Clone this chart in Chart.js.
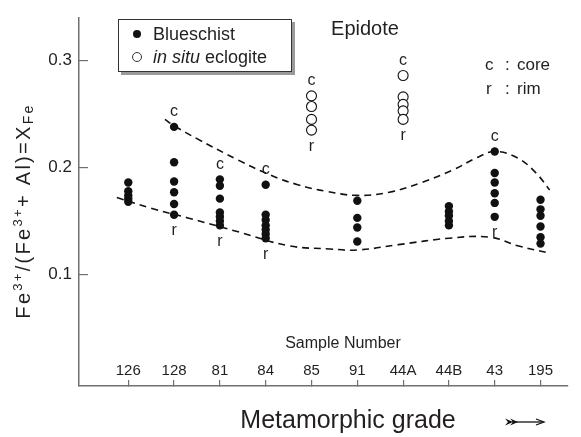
<!DOCTYPE html>
<html>
<head>
<meta charset="utf-8">
<title>Epidote XFe</title>
<style>
  body { margin: 0; background: #fff; }
  #wrap { width: 581px; height: 437px; position: relative; }
</style>
</head>
<body>
<div id="wrap"><canvas id="chart"></canvas></div>
<script src="https://cdn.jsdelivr.net/npm/chart.js"></script>
<script>
// sample numbers along the bottom, in order of metamorphic grade
const samples = ['126', '128', '81', '84', '85', '91', '44A', '44B', '43', '195'];

// Fe3+/(Fe3+ + Al) of epidote, one list per sample
const blueschist = [
  [0.186, 0.178, 0.174, 0.171, 0.168],
  [0.238, 0.205, 0.187, 0.177, 0.166, 0.156],
  [0.189, 0.183, 0.171, 0.158, 0.154, 0.150, 0.146],
  [0.184, 0.156, 0.151, 0.146, 0.142, 0.138, 0.134],
  [],
  [0.169, 0.153, 0.144, 0.131],
  [],
  [0.164, 0.159, 0.155, 0.150, 0.146],
  [0.215, 0.195, 0.186, 0.176, 0.167, 0.154],
  [0.170, 0.161, 0.155, 0.145, 0.135, 0.129]
];
const eclogite = [
  [], [], [], [],
  [0.267, 0.257, 0.245, 0.235],
  [],
  [0.286, 0.266, 0.259, 0.253, 0.245],
  [], [], []
];

// samples marked with c (core) and r (rim)
const coreRim = ['128', '81', '84', '85', '44A', '43'];

// dashed envelope curves, [sample position, XFe]
const upperCurve = [[0.8, 0.245], [1.0, 0.239], [1.5, 0.227], [2.4, 0.207], [3.1, 0.193], [3.7, 0.184],
  [4.3, 0.178], [5.0, 0.174], [5.7, 0.177], [6.4, 0.186], [7.1, 0.198], [7.6, 0.209], [8.0, 0.215],
  [8.5, 0.209], [8.9, 0.195], [9.2, 0.179]];
const lowerCurve = [[-0.25, 0.172], [0.5, 0.162], [1.3, 0.153], [2.4, 0.140], [3.5, 0.127], [4.4, 0.124],
  [5.0, 0.123], [5.9, 0.128], [7.0, 0.134], [7.9, 0.135], [8.5, 0.127], [9.2, 0.120]];

const yTicks = [0.1, 0.2, 0.3];

const family = '"Liberation Sans", Arial, sans-serif';
const ink = '#231f20';
const axisGrey = '#707070';

const toPoints = lists => lists.flatMap((vals, i) => vals.map(v => ({x: i, y: v})));
const toXY = pairs => pairs.map(p => ({x: p[0], y: p[1]}));

// draw text a character at a time with extra tracking
function spaced(ctx, text, x, y, gap) {
  for (const ch of text) {
    ctx.fillText(ch, x, y);
    x += ctx.measureText(ch).width + gap;
  }
  return x;
}
function spacedWidth(ctx, text, gap) {
  let w = 0;
  for (const ch of text) w += ctx.measureText(ch).width + gap;
  return w;
}

const notes = {
  id: 'notes',
  afterDatasetsDraw(chart) {
    const {ctx, scales: {x, y}} = chart;
    ctx.save();
    ctx.fillStyle = ink;
    ctx.textBaseline = 'middle';

    // c / r marks above and below each analysed grain
    ctx.font = `16px ${family}`;
    ctx.textAlign = 'center';
    coreRim.forEach(name => {
      const i = samples.indexOf(name);
      const vals = blueschist[i].concat(eclogite[i]);
      const px = x.getPixelForValue(i);
      ctx.fillText('c', px, y.getPixelForValue(Math.max(...vals)) - 15);
      ctx.fillText('r', px, y.getPixelForValue(Math.min(...vals)) + 16);
    });

    // titles inside the plot
    ctx.font = `20px ${family}`;
    ctx.fillText('Epidote', 365, 29);
    ctx.font = `16px ${family}`;
    ctx.fillText('Sample Number', 343, 344);
    ctx.font = `25px ${family}`;
    ctx.fillText('Metamorphic grade', 348, 421);

    ctx.textAlign = 'left';
    ctx.font = `17px ${family}`;
    ctx.fillText('c', 485, 65);
    ctx.fillText(':', 505, 65);
    ctx.fillText('core', 517, 65);
    ctx.fillText('r', 486, 89);
    ctx.fillText(':', 505, 89);
    ctx.fillText('rim', 517, 89);

    // legend box with shadow
    ctx.fillStyle = '#9a9a9a';
    ctx.fillRect(121, 22, 174, 53);
    ctx.fillStyle = '#fff';
    ctx.fillRect(118, 19, 174, 53);
    ctx.strokeStyle = '#333';
    ctx.lineWidth = 1;
    ctx.strokeRect(118.5, 19.5, 173, 52);
    ctx.fillStyle = '#111';
    ctx.beginPath(); ctx.arc(137, 34, 4, 0, Math.PI * 2); ctx.fill();
    ctx.beginPath(); ctx.arc(137, 57, 4.5, 0, Math.PI * 2); ctx.stroke();
    ctx.fillStyle = ink;
    ctx.font = `18px ${family}`;
    ctx.fillText('Blueschist', 153, 35);
    ctx.font = `italic 18px ${family}`;
    ctx.fillText('in situ', 153, 58);
    const w = ctx.measureText('in situ ').width;
    ctx.font = `18px ${family}`;
    ctx.fillText('eclogite', 153 + w, 58);

    // y axis title with super/subscripts
    const gap = 2.3;
    const parts = [
      ['Fe', 20, 0], ['3+', 13, -8], ['/(Fe', 20, 0], ['3+', 13, -8], ['+ Al)=X', 20, 0], ['Fe', 14, 3]
    ];
    let total = 0;
    parts.forEach(p => { ctx.font = `${p[1]}px ${family}`; total += spacedWidth(ctx, p[0], gap); });
    ctx.translate(23, 211);
    ctx.rotate(-Math.PI / 2);
    ctx.textBaseline = 'alphabetic';
    let cx = -total / 2;
    parts.forEach(p => {
      ctx.font = `${p[1]}px ${family}`;
      cx = spaced(ctx, p[0], cx, 7 + p[2], gap);
    });
    ctx.setTransform(1, 0, 0, 1, 0, 0);

    // grade arrow
    ctx.strokeStyle = '#111';
    ctx.fillStyle = '#111';
    ctx.lineWidth = 1.3;
    ctx.beginPath(); ctx.moveTo(512, 422); ctx.lineTo(543, 422); ctx.stroke();
    ctx.beginPath(); ctx.moveTo(536, 419); ctx.lineTo(544, 422); ctx.lineTo(536, 425); ctx.stroke();
    ctx.beginPath(); ctx.moveTo(505, 418.5); ctx.lineTo(513, 422); ctx.lineTo(505, 425.5); ctx.lineTo(508, 422); ctx.closePath(); ctx.fill();
    ctx.beginPath(); ctx.moveTo(510, 418.5); ctx.lineTo(518, 422); ctx.lineTo(510, 425.5); ctx.lineTo(513, 422); ctx.closePath(); ctx.fill();
    ctx.restore();
  }
};

new Chart(document.getElementById('chart'), {
  type: 'scatter',
  data: {
    datasets: [
      {
        label: 'Blueschist',
        data: toPoints(blueschist),
        pointRadius: 4.2,
        pointBackgroundColor: '#111',
        pointBorderWidth: 0
      },
      {
        label: 'in situ eclogite',
        data: toPoints(eclogite),
        pointRadius: 5,
        pointBackgroundColor: '#fff',
        pointBorderColor: '#111',
        pointBorderWidth: 1.1
      },
      {
        label: 'upper',
        data: toXY(upperCurve),
        showLine: true,
        pointRadius: 0,
        borderColor: '#111',
        borderWidth: 1.6,
        borderDash: [7, 5],
        tension: 0.4
      },
      {
        label: 'lower',
        data: toXY(lowerCurve),
        showLine: true,
        pointRadius: 0,
        borderColor: '#111',
        borderWidth: 1.6,
        borderDash: [7, 5],
        tension: 0.4
      }
    ]
  },
  options: {
    responsive: true,
    maintainAspectRatio: false,
    animation: false,
    events: [],
    layout: {padding: {top: 18, right: 13, left: 0, bottom: 0}},
    plugins: {legend: {display: false}, tooltip: {enabled: false}},
    scales: {
      x: {
        type: 'linear',
        min: -1.076,
        max: 9.6,
        afterFit: s => { s.height = 51; s.paddingLeft = 0; s.paddingRight = 0; },
        afterBuildTicks: s => { s.ticks = samples.map((_, i) => ({value: i})); },
        border: {color: axisGrey, width: 1.5},
        grid: {drawOnChartArea: false, tickLength: -6, color: axisGrey, lineWidth: 1.2},
        ticks: {
          mirror: true, padding: 6, autoSkip: false, maxRotation: 0,
          color: ink, font: {family: family, size: 15},
          callback: v => samples[v] ?? ''
        }
      },
      y: {
        min: -0.004,
        max: 0.3397,
        afterFit: s => { s.width = 79; s.paddingTop = 0; s.paddingBottom = 0; },
        afterBuildTicks: s => { s.ticks = yTicks.map(v => ({value: v})); },
        border: {color: axisGrey, width: 1.5},
        grid: {drawOnChartArea: false, tickLength: -9, color: axisGrey, lineWidth: 1.2},
        ticks: {
          padding: 16, color: ink, font: {family: family, size: 17},
          callback: v => v.toFixed(1)
        }
      }
    }
  },
  plugins: [notes]
});
</script>
</body>
</html>
